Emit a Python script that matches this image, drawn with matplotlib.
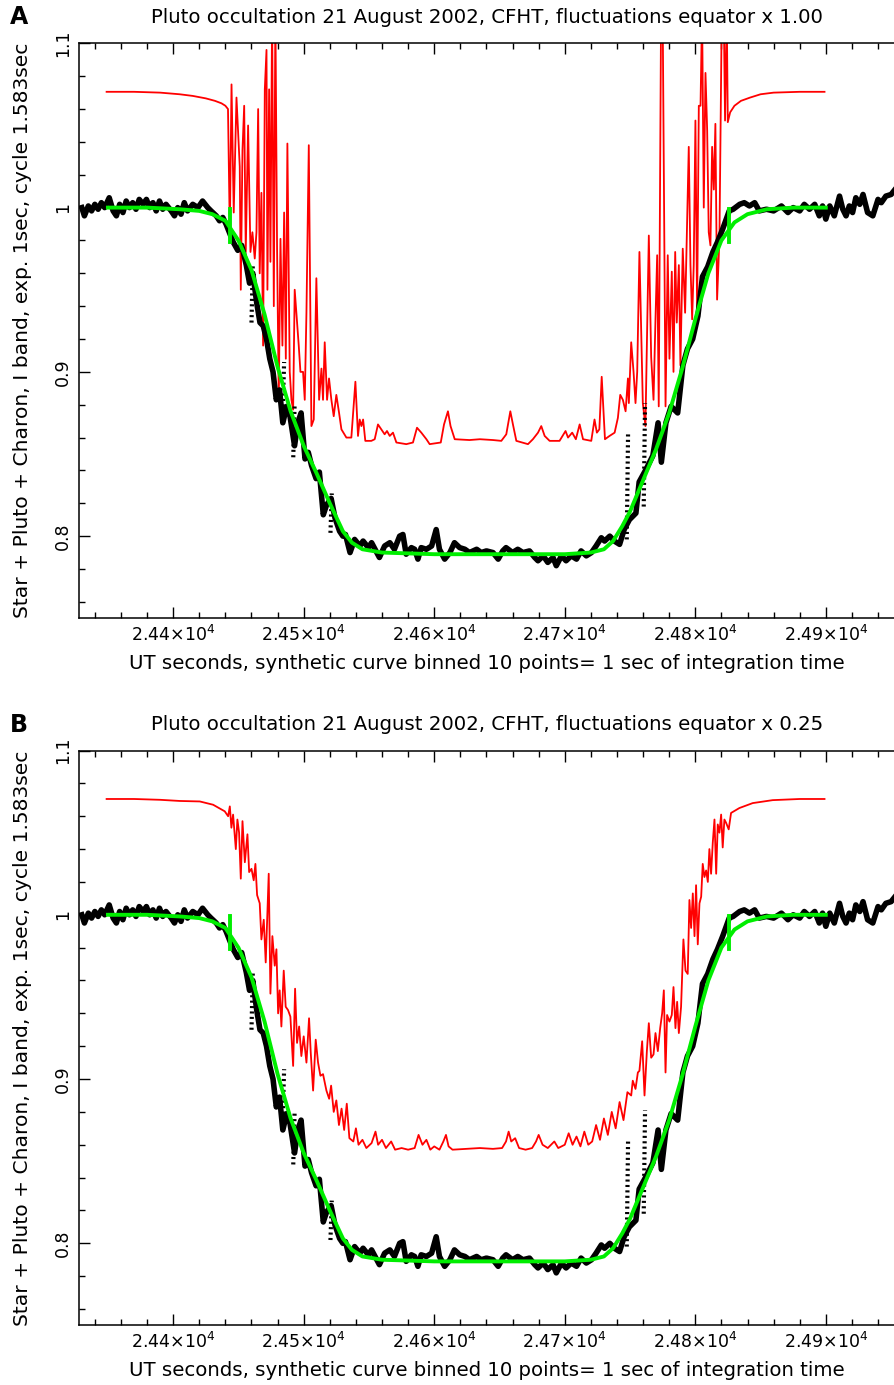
import matplotlib.pyplot as plt
import matplotlib.ticker as ticker

# Observed light curve (same data in both panels)
black_t = [24330, 24332, 24335, 24337.5, 24340, 24342.5, 24345, 24347.5, 24351, 24354,
           24356.5, 24359, 24361.5, 24364, 24366.5, 24369, 24371.5, 24374, 24377, 24379.5,
           24382, 24384.5, 24387, 24389.5, 24392, 24394.5, 24398.5, 24401, 24403.5, 24406,
           24408.5, 24411, 24415, 24419, 24422.5, 24426.5, 24429, 24433, 24435.5, 24438,
           24440.5, 24443.5, 24446, 24449.5, 24452.5, 24456, 24458.5, 24461, 24464, 24466.5,
           24469, 24471.5, 24474, 24476.5, 24479, 24481.5, 24484, 24487, 24489.5, 24493,
           24495.5, 24498, 24501, 24503.5, 24506, 24509.5, 24512, 24515, 24517.5, 24521,
           24524, 24527.5, 24530, 24532, 24535.5, 24539, 24543, 24545.5, 24549.5, 24552,
           24558, 24562, 24566, 24569.5, 24573.5, 24576, 24578.5, 24582.5, 24585, 24587.5,
           24590, 24594, 24598, 24601.5, 24604, 24608, 24612, 24615.5, 24619.5, 24623.5,
           24627, 24632.5, 24636, 24640, 24645, 24649, 24652.5, 24655, 24660, 24664,
           24668, 24673, 24677, 24679.5, 24683.5, 24687, 24691, 24693.5, 24697.5, 24701,
           24705, 24709, 24712.5, 24716.5, 24720.5, 24724, 24728, 24730.5, 24734.5, 24738,
           24742, 24745.5, 24749.5, 24754.5, 24757, 24762.5, 24767.5, 24771.5, 24774, 24777.5,
           24781.5, 24786.5, 24790.5, 24794, 24798, 24802, 24805.5, 24809.5, 24813.5, 24817,
           24821, 24826, 24829, 24834, 24837.5, 24841.5, 24845.5, 24849, 24854.5, 24860,
           24866, 24871, 24875, 24880, 24883.5, 24887.5, 24891.5, 24895, 24897.5, 24900,
           24903, 24906.5, 24910.5, 24913, 24915.5, 24918, 24920.5, 24923, 24926, 24928.5,
           24932, 24936, 24940, 24942.5, 24946, 24950, 24953]
black_v = [1.000, 0.995, 1.001, 0.998, 1.002, 0.999, 1.003, 1.000, 1.006, 0.998,
           0.995, 1.002, 0.997, 1.004, 1.000, 1.003, 0.999, 1.005, 1.002, 1.005,
           1.000, 1.003, 0.998, 1.004, 0.999, 1.002, 0.998, 0.995, 1.000, 0.996,
           1.003, 0.998, 1.002, 1.000, 1.004, 1.000, 0.998, 0.995, 0.992, 0.994,
           0.990, 0.984, 0.979, 0.974, 0.977, 0.965, 0.954, 0.960, 0.942, 0.930,
           0.928, 0.920, 0.908, 0.900, 0.883, 0.889, 0.869, 0.879, 0.873, 0.855,
           0.869, 0.875, 0.847, 0.851, 0.843, 0.835, 0.839, 0.813, 0.819, 0.823,
           0.811, 0.803, 0.800, 0.801, 0.790, 0.798, 0.794, 0.797, 0.793, 0.796,
           0.787, 0.794, 0.796, 0.792, 0.800, 0.801, 0.789, 0.793, 0.792, 0.786,
           0.793, 0.792, 0.794, 0.804, 0.792, 0.786, 0.790, 0.796, 0.793, 0.792,
           0.790, 0.792, 0.790, 0.791, 0.790, 0.786, 0.791, 0.793, 0.790, 0.792,
           0.790, 0.791, 0.787, 0.785, 0.788, 0.784, 0.787, 0.782, 0.788, 0.785,
           0.788, 0.786, 0.791, 0.788, 0.790, 0.794, 0.799, 0.797, 0.800, 0.797,
           0.795, 0.804, 0.810, 0.814, 0.833, 0.841, 0.849, 0.869, 0.845, 0.869,
           0.879, 0.875, 0.904, 0.914, 0.920, 0.934, 0.958, 0.964, 0.973, 0.979,
           0.987, 0.998, 0.999, 1.002, 1.003, 1.001, 1.003, 0.998, 0.999, 0.998,
           1.001, 0.997, 1.000, 0.998, 1.002, 0.999, 1.002, 0.995, 1.001, 0.993,
           1.001, 0.995, 1.007, 0.999, 0.995, 1.001, 0.997, 1.006, 1.002, 1.008,
           0.997, 0.995, 1.005, 1.003, 1.007, 1.008, 1.011]

# dotted stretches of the observed curve: time, low, high
dot_t = [24460.5, 24484.5, 24492.5, 24521, 24748, 24761]
dot_lo = [0.930, 0.879, 0.848, 0.802, 0.798, 0.818]
dot_hi = [0.965, 0.906, 0.879, 0.826, 0.863, 0.881]

# Synthetic model (green)
green_t = [24350, 24380, 24405, 24420, 24430, 24440, 24450, 24460, 24470, 24480,
           24490, 24500, 24510, 24520, 24530, 24537, 24545, 24560, 24600, 24650,
           24700, 24720, 24730, 24737, 24744, 24750, 24760, 24770, 24780, 24790,
           24800, 24810, 24820, 24830, 24840, 24855, 24875, 24900]
green_v = [1.000, 1.000, 0.999, 0.998, 0.996, 0.992, 0.980, 0.962, 0.935, 0.903,
           0.876, 0.855, 0.838, 0.820, 0.803, 0.796, 0.792, 0.790, 0.789, 0.789,
           0.789, 0.790, 0.792, 0.797, 0.806, 0.815, 0.834, 0.853, 0.875, 0.902,
           0.932, 0.960, 0.980, 0.991, 0.996, 0.999, 1.000, 1.000]
mark_t = [24443.4, 24825.7]
mark_lo = 0.979
mark_hi = 0.999

# Red curve, panel A (fluctuations x 1.00)
red_a_t = [24349, 24370, 24390, 24405, 24415, 24425, 24432, 24437, 24440, 24442,
           24443.4, 24444.7, 24446.4, 24448.5, 24451, 24451.8, 24453.1, 24454.4, 24455.6, 24457.4,
           24459.2, 24460.7, 24462.5, 24463.8, 24465.1, 24466.3, 24467.6, 24468.9, 24470.2, 24471.5,
           24472.2, 24473.5, 24474.5, 24475.8, 24477.1, 24478.3, 24479.6, 24480.9, 24482.2, 24483.7,
           24485, 24486.3, 24487.5, 24489.3, 24490.6, 24491.9, 24493.1, 24494.9, 24496.2, 24497.5,
           24499.5, 24500.8, 24502.1, 24503.9, 24505.9, 24507.7, 24509.7, 24511.8, 24513.6, 24514.8,
           24516.1, 24517.9, 24519.4, 24521.2, 24523, 24525, 24527.1, 24528.9, 24532.7, 24536.5,
           24539.6, 24541.6, 24542.9, 24544.2, 24545.5, 24547.2, 24551.8, 24554.4, 24556.9, 24559.5,
           24562, 24563.8, 24565.9, 24568.4, 24571, 24578.6, 24583.7, 24586.8, 24590.1, 24594,
           24596.5, 24605, 24607.5, 24610.5, 24612.5, 24615.7, 24627, 24635, 24645, 24651.4,
           24655.2, 24658.3, 24660.3, 24662.9, 24671.8, 24675.6, 24679.5, 24682, 24684.6, 24688.4,
           24696, 24700.6, 24702.5, 24705.7, 24708.5, 24711.4, 24714, 24720.3, 24722.8, 24724.6,
           24726.5, 24728.3, 24730.8, 24734.3, 24738.2, 24740.7, 24742.5, 24744.5, 24746.6, 24748.4,
           24749.1, 24750.9, 24752.7, 24754.2, 24755.5, 24757.2, 24759.8, 24761.8, 24764.4, 24766.2,
           24768, 24769.5, 24770.8, 24772, 24773.8, 24775, 24777.2, 24778.9, 24780.2, 24782,
           24783.3, 24784.6, 24785.8, 24787.4, 24788.6, 24790.4, 24792.2, 24793.5, 24795, 24796.3,
           24797.6, 24798.8, 24800.1, 24801.4, 24802.7, 24804, 24805.2, 24806.5, 24807.8, 24809.1,
           24810.3, 24811.6, 24812.9, 24814.2, 24815.4, 24816.7, 24818.5, 24820.3, 24821.8, 24822.8,
           24824.1, 24824.9, 24826.7, 24830, 24835, 24842, 24850, 24860, 24880, 24899]
red_a_v = [1.0705, 1.0705, 1.0700, 1.0690, 1.0680, 1.0665, 1.0650, 1.0635, 1.0620, 1.0600,
           0.985, 1.075, 0.997, 1.067, 1.025, 0.950, 1.035, 1.062, 0.973, 1.050,
           0.973, 0.985, 0.969, 0.985, 1.060, 0.960, 1.009, 0.916, 1.072, 1.096,
           0.950, 1.072, 0.967, 1.120, 0.940, 1.120, 0.975, 0.883, 0.981, 0.916,
           0.997, 0.908, 1.039, 0.900, 0.883, 0.877, 0.950, 0.930, 0.916, 0.900,
           0.900, 0.883, 0.936, 1.038, 0.867, 0.871, 0.957, 0.883, 0.902, 0.883,
           0.918, 0.883, 0.896, 0.883, 0.873, 0.886, 0.875, 0.865, 0.860, 0.860,
           0.894, 0.861, 0.871, 0.867, 0.871, 0.858, 0.858, 0.859, 0.868, 0.865,
           0.862, 0.864, 0.861, 0.863, 0.857, 0.856, 0.857, 0.866, 0.863, 0.859,
           0.856, 0.857, 0.868, 0.876, 0.867, 0.859, 0.8585, 0.8590, 0.8585, 0.858,
           0.862, 0.876, 0.868, 0.858, 0.856, 0.859, 0.863, 0.867, 0.861, 0.858,
           0.858, 0.864, 0.860, 0.863, 0.859, 0.868, 0.859, 0.858, 0.871, 0.863,
           0.865, 0.897, 0.859, 0.861, 0.863, 0.872, 0.886, 0.883, 0.876, 0.896,
           0.881, 0.918, 0.900, 0.881, 0.900, 0.973, 0.881, 0.867, 0.983, 0.909,
           0.883, 0.932, 0.971, 0.879, 1.120, 1.120, 0.879, 0.971, 0.908, 0.961,
           0.900, 0.973, 0.930, 0.965, 0.904, 0.975, 0.936, 0.983, 1.037, 0.965,
           0.932, 0.965, 1.053, 0.936, 1.062, 1.062, 1.120, 1.000, 1.082, 1.047,
           0.985, 0.977, 1.037, 1.011, 1.051, 0.944, 0.981, 1.120, 1.120, 1.053,
           1.120, 1.052, 1.058, 1.062, 1.065, 1.067, 1.069, 1.070, 1.0705, 1.0705]

# Red curve, panel B (fluctuations x 0.25)
red_b_t = [24349, 24370, 24390, 24405, 24420.4, 24430.6, 24439.5, 24442.1, 24443.4, 24444.6,
           24445.9, 24448, 24449.2, 24450.5, 24451.8, 24453.1, 24454.9, 24456.9, 24458.2, 24460,
           24461.7, 24463, 24464.3, 24466.3, 24467.6, 24469.4, 24470.9, 24473.2, 24474.5, 24476,
           24477.8, 24479.1, 24480.4, 24481.6, 24482.9, 24484.7, 24486.2, 24488, 24489.8, 24491.9,
           24493.4, 24494.9, 24496.5, 24498.2, 24500, 24502.1, 24504.1, 24505.4, 24507.2, 24509.2,
           24511, 24512.8, 24514.8, 24516.1, 24517.4, 24519.5, 24521, 24523, 24525, 24527,
           24529, 24531, 24533, 24535, 24538, 24540, 24542, 24545, 24548, 24552,
           24555, 24557, 24560, 24563, 24567, 24570, 24575, 24580, 24585, 24588,
           24591, 24594, 24597, 24600, 24604, 24607, 24609, 24611, 24614, 24625,
           24635, 24645, 24652, 24655, 24657, 24659, 24662, 24665, 24670, 24675,
           24678, 24680, 24683, 24687, 24692, 24695, 24700, 24703, 24706, 24709,
           24712, 24715, 24718, 24721, 24724, 24727, 24730, 24733, 24736, 24739,
           24742, 24745, 24748, 24750.9, 24752.1, 24754.2, 24756, 24757.2, 24759.3, 24761.1,
           24762.9, 24764.4, 24766.2, 24768, 24769.5, 24771.3, 24773.1, 24774.6, 24775.9, 24777.2,
           24778.4, 24780.2, 24782, 24783.3, 24784.8, 24786.1, 24787.4, 24789.1, 24790.9, 24792.5,
           24794.2, 24795.5, 24796.8, 24798.1, 24799.4, 24800.6, 24801.9, 24803.2, 24804.5, 24805.7,
           24807, 24808.3, 24809.6, 24810.8, 24812.1, 24813.4, 24814.7, 24816, 24817.2, 24818.5,
           24819.8, 24821, 24822.3, 24823.6, 24825.6, 24827.4, 24833.8, 24844, 24859.3, 24880,
           24899]
red_b_v = [1.0705, 1.0705, 1.0700, 1.0693, 1.0690, 1.0670, 1.0630, 1.0600, 1.066, 1.053,
           1.061, 1.040, 1.058, 1.050, 1.022, 1.057, 1.032, 1.049, 1.026, 1.028,
           1.021, 1.031, 1.012, 1.007, 0.985, 0.997, 0.971, 1.025, 0.952, 0.987,
           0.969, 0.979, 0.940, 0.954, 0.932, 0.966, 0.944, 0.942, 0.938, 0.908,
           0.955, 0.922, 0.932, 0.914, 0.926, 0.910, 0.937, 0.916, 0.893, 0.924,
           0.910, 0.902, 0.903, 0.898, 0.893, 0.888, 0.896, 0.880, 0.887, 0.872,
           0.882, 0.869, 0.885, 0.864, 0.862, 0.870, 0.860, 0.863, 0.858, 0.861,
           0.868, 0.860, 0.863, 0.858, 0.862, 0.857, 0.858, 0.857, 0.858, 0.866,
           0.860, 0.863, 0.857, 0.859, 0.857, 0.862, 0.866, 0.859, 0.857, 0.8575,
           0.8580, 0.8575, 0.858, 0.862, 0.868, 0.862, 0.864, 0.858, 0.857, 0.858,
           0.862, 0.866, 0.860, 0.858, 0.862, 0.858, 0.860, 0.867, 0.860, 0.865,
           0.859, 0.868, 0.860, 0.862, 0.872, 0.863, 0.876, 0.866, 0.880, 0.870,
           0.886, 0.875, 0.892, 0.890, 0.899, 0.894, 0.904, 0.905, 0.923, 0.890,
           0.917, 0.934, 0.913, 0.915, 0.928, 0.917, 0.931, 0.940, 0.954, 0.904,
           0.939, 0.935, 0.939, 0.956, 0.931, 0.947, 0.928, 0.944, 0.985, 0.966,
           0.964, 1.009, 0.992, 1.013, 0.987, 1.018, 0.982, 1.007, 1.011, 1.031,
           1.023, 1.027, 1.020, 1.040, 1.025, 1.044, 1.058, 1.025, 1.055, 1.050,
           1.061, 1.041, 1.058, 1.056, 1.052, 1.062, 1.065, 1.068, 1.0698, 1.0705,
           1.0705]

titles = ['Pluto occultation 21 August 2002, CFHT, fluctuations equator x 1.00',
          'Pluto occultation 21 August 2002, CFHT, fluctuations equator x 0.25']
panel_letters = ['A', 'B']
red_curves = [(red_a_t, red_a_v), (red_b_t, red_b_v)]
xticks = [24400, 24500, 24600, 24700, 24800, 24900]
xtick_labels = [r'$\mathregular{2.44{\times}10^{4}}$', r'$\mathregular{2.45{\times}10^{4}}$',
                r'$\mathregular{2.46{\times}10^{4}}$', r'$\mathregular{2.47{\times}10^{4}}$',
                r'$\mathregular{2.48{\times}10^{4}}$', r'$\mathregular{2.49{\times}10^{4}}$']
yticks = [0.8, 0.9, 1.0, 1.1]
ytick_labels = ['0.8', '0.9', '1', '1.1']
xlabel = 'UT seconds, synthetic curve binned 10 points= 1 sec of integration time'
ylabel = 'Star + Pluto + Charon, I band, exp. 1sec, cycle 1.583sec'

fig = plt.figure(figsize=(8.95, 13.85), dpi=100)
panel_boxes = [[0.0879, 0.5536, 0.9121, 0.4151], [0.0879, 0.0430, 0.9121, 0.4151]]

for i in range(2):
    ax = fig.add_axes(panel_boxes[i])
    rt, rv = red_curves[i]
    ax.plot(rt, rv, color='#ff0000', lw=1.3, zorder=2)
    ax.plot(black_t, black_v, color='black', lw=4.0, zorder=3, solid_joinstyle='round')
    for t, lo, hi in zip(dot_t, dot_lo, dot_hi):
        ax.plot([t - 0.5, t + 0.5], [lo, hi], color='black', lw=3.0, ls=(0, (0.5, 0.8)), zorder=3)
    ax.plot(green_t, green_v, color='#00ee00', lw=2.8, zorder=4)
    for t in mark_t:
        ax.plot([t, t], [mark_lo, mark_hi], color='#00ee00', lw=2.8, zorder=4)

    ax.set_xlim(24327.6, 24953)
    ax.set_ylim(0.75, 1.1)
    ax.spines['right'].set_visible(False)
    ax.xaxis.set_major_locator(ticker.FixedLocator(xticks))
    ax.xaxis.set_major_formatter(ticker.FixedFormatter(xtick_labels))
    ax.xaxis.set_minor_locator(ticker.MultipleLocator(20))
    ax.yaxis.set_major_locator(ticker.FixedLocator(yticks))
    ax.yaxis.set_major_formatter(ticker.FixedFormatter(ytick_labels))
    ax.yaxis.set_minor_locator(ticker.MultipleLocator(0.02))
    ax.tick_params(which='both', direction='in', top=True, right=False, width=1.0)
    ax.tick_params(which='major', length=8, labelsize=12.5, pad=5)
    ax.tick_params(which='minor', length=4)
    ax.tick_params(axis='y', labelrotation=90)
    for lab in ax.get_yticklabels():
        lab.set_va('center')
    for s in ['left', 'top', 'bottom']:
        ax.spines[s].set_linewidth(1.1)

    ax.set_title(titles[i], fontsize=14.2, pad=15)
    ax.set_xlabel(xlabel, fontsize=14.2, labelpad=6)
    ax.set_ylabel(ylabel, fontsize=14.6, labelpad=16)
    ax.text(-0.084, 1.045, panel_letters[i], transform=ax.transAxes, fontsize=17,
            fontweight='bold', ha='left', va='center')

plt.savefig('out.png', dpi=100)
